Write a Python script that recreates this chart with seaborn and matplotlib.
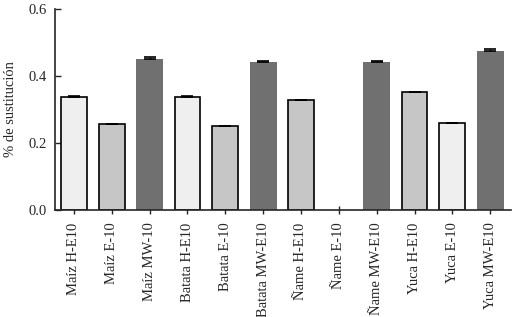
import matplotlib
matplotlib.use("Agg")
import matplotlib.pyplot as plt
import numpy as np
import pandas as pd
import seaborn as sns

labels = ["Maíz H-E10", "Maíz E-10", "Maíz MW-10",
          "Batata H-E10", "Batata E-10", "Batata MW-E10",
          "Ñame H-E10", "Ñame E-10", "Ñame MW-E10",
          "Yuca H-E10", "Yuca E-10", "Yuca MW-E10"]
values = [0.338, 0.256, 0.450,
          0.338, 0.250, 0.442,
          0.327, 0.0, 0.442,
          0.351, 0.259, 0.475]
errors = [0.002, 0.002, 0.008,
          0.002, 0.002, 0.002,
          0.002, 0.0, 0.002,
          0.002, 0.002, 0.005]
# light / medium / dark shading per bar
shades = ["light", "mid", "dark",
          "light", "mid", "dark",
          "mid", "mid", "dark",
          "mid", "light", "dark"]
shade_colors = {"light": "#efefef", "mid": "#c6c6c6", "dark": "#707070"}

sns.set_style("ticks")
plt.rcParams['font.family'] = ['Liberation Serif', 'DejaVu Serif']

df = pd.DataFrame({"label": labels, "value": values})

fig = plt.figure(figsize=(5.14, 3.17), dpi=100)
ax = fig.add_axes([55 / 514, 1 - 210 / 317, 456 / 514, 201 / 317])

sns.barplot(data=df, x="label", y="value", hue="label",
            palette=[shade_colors[s] for s in shades],
            width=0.68, legend=False, ax=ax, saturation=1)

for patch, s, v in zip(ax.patches, shades, values):
    if v == 0:
        patch.set_visible(False)
    elif s == "dark":
        patch.set_edgecolor("none")
        patch.set_width(0.72)
        patch.set_x(patch.get_x() - 0.02)
    else:
        patch.set_edgecolor("black")
        patch.set_linewidth(1.2)

x = np.arange(len(labels))
err = np.array(errors)
vals = np.array(values)
has_err = err > 0
ax.errorbar(x[has_err], vals[has_err], yerr=[np.zeros(has_err.sum()), err[has_err]],
            fmt="none", ecolor="black", elinewidth=1.0, capsize=4, capthick=1.2)

ax.set_xlim(-0.5, 11.55)
ax.set_ylim(0, 0.6)
ax.set_yticks([0.0, 0.2, 0.4, 0.6])
ax.set_yticklabels(["0.0", "0.2", "0.4", "0.6"])
ax.set_xticks(x)
ax.set_xticklabels(labels, rotation=90)
ax.tick_params(axis="y", direction="in", length=4, width=1, labelsize=10.5, pad=6)
ax.tick_params(axis="x", direction="inout", length=6, width=1, labelsize=10.5, pad=6)
ax.set_xlabel("")
ax.set_ylabel("% de sustitución", fontsize=10.5, labelpad=8)

for side in ["top", "right"]:
    ax.spines[side].set_visible(False)
ax.spines["left"].set_linewidth(1.2)
ax.spines["bottom"].set_linewidth(1.2)

fig.savefig("out.png", dpi=100)
